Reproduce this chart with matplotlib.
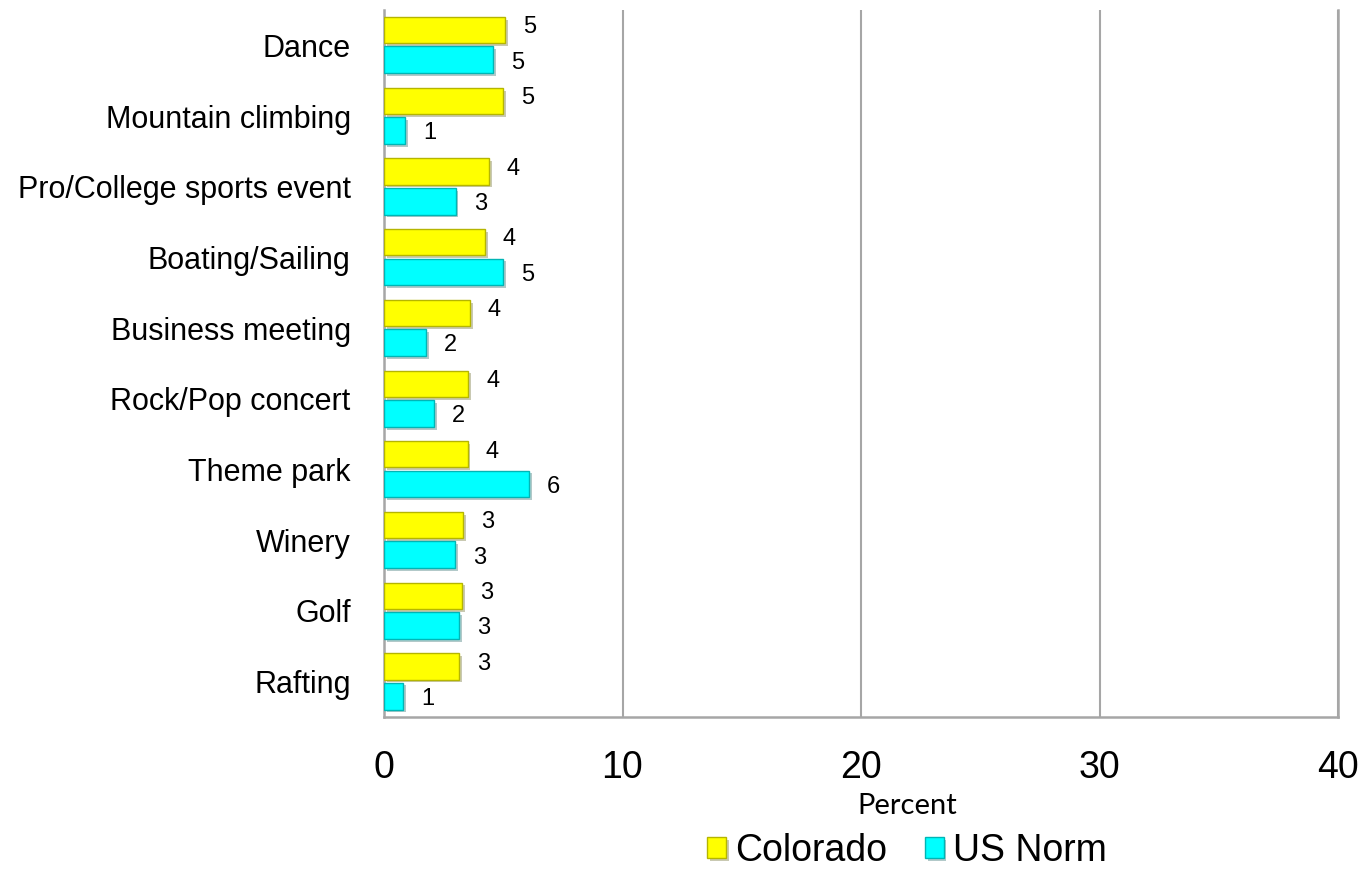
import matplotlib.pyplot as plt
import matplotlib.patheffects as pe
import numpy as np

# donnees
categories = ['Dance', 'Mountain climbing', 'Pro/College sports event', 'Boating/Sailing',
              'Business meeting', 'Rock/Pop concert', 'Theme park', 'Winery', 'Golf', 'Rafting']
colorado = [5.07, 4.99, 4.4, 4.23, 3.6, 3.52, 3.51, 3.31, 3.27, 3.14]
us_norm = [4.57, 0.88, 3.0, 4.99, 1.76, 2.1, 6.08, 2.98, 3.14, 0.8]
xticks = [0, 10, 20, 30, 40]

fig = plt.figure(figsize=(13.64, 8.72), dpi=100)
ax = fig.add_axes([384/1364, 1-717/872, (1338-384)/1364, (717-10)/872])

y = np.arange(len(categories))
ombre = [pe.SimplePatchShadow(offset=(2, -2), alpha=0.3), pe.Normal()]
b1 = ax.barh(y - 0.215, colorado, height=0.37, color='#FFFF00', edgecolor='#B5B500',
             linewidth=1, label='Colorado', zorder=3)
b2 = ax.barh(y + 0.205, us_norm, height=0.38, color='#00FFFF', edgecolor='#00B5B5',
             linewidth=1, label='US Norm', zorder=3)
for b in list(b1) + list(b2):
    b.set_path_effects(ombre)

# etiquettes des valeurs
for i in range(len(categories)):
    ax.annotate('%d' % int(colorado[i] + 0.5), (colorado[i], y[i] - 0.215), xytext=(13, 2),
                textcoords='offset points', ha='left', va='center', fontsize=17,
                family='Liberation Sans')
    ax.annotate('%d' % int(us_norm[i] + 0.5), (us_norm[i], y[i] + 0.205), xytext=(13, -2),
                textcoords='offset points', ha='left', va='center', fontsize=17,
                family='Liberation Sans')

ax.set_xlim(0, 40)
ax.set_ylim(9.5, -0.5)
ax.set_xticks(xticks)
ax.set_xticklabels([str(t) for t in xticks], fontsize=27, family='Liberation Sans')
ax.set_yticks(y)
ax.set_yticklabels(categories, fontsize=22, family='Liberation Sans')
ax.tick_params(axis='x', length=0, pad=24)
ax.tick_params(axis='y', length=0, pad=24)
ax.grid(axis='x', color='#A6A6A6', linewidth=1.5, zorder=0)
ax.set_axisbelow(True)
for s in ['left', 'bottom', 'right']:
    ax.spines[s].set_color('#A6A6A6')
    ax.spines[s].set_linewidth(1.8)
ax.spines['top'].set_visible(False)

fig.text(907/1364, 1-806/872, 'Percent', ha='center', va='center', fontsize=21, family='Lato')
fig.legend(handles=[b1, b2], loc='center', bbox_to_anchor=(907/1364, 1-851/872), ncol=2,
           frameon=False, prop={'family': 'Liberation Sans', 'size': 27},
           handlelength=0.5, handleheight=0.5, handletextpad=0.25, columnspacing=1.0)

fig.savefig('out.png', dpi=100)
